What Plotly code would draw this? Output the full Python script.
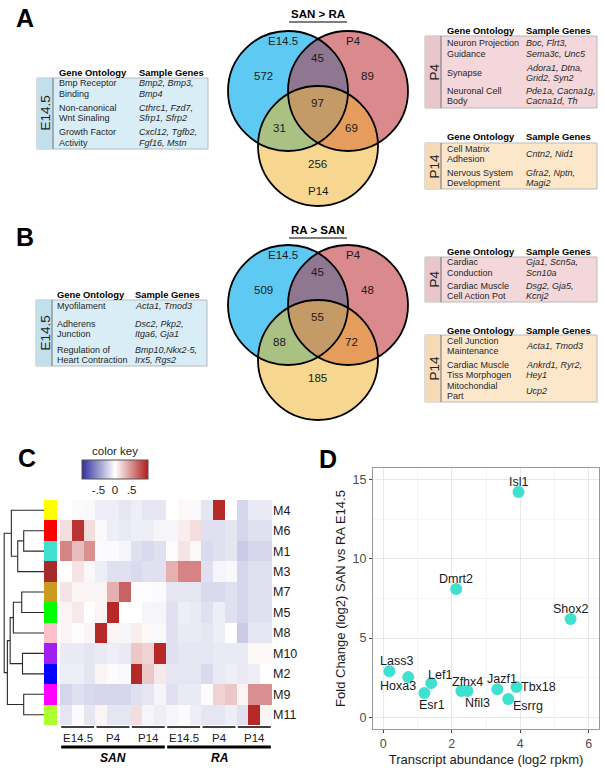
import numpy as np
import plotly.graph_objects as go

W, H = 605, 768
FONT = "Liberation Sans, Arial, sans-serif"


def X(px):
    return px / W


def Y(py):
    return 1 - py / H


# ---------------------------------------------------------------- DATA
venn_regions = ["E14.5", "P4", "P14", "E14.5&P4", "E14.5&P14", "P4&P14", "E14.5&P4&P14"]
san_gt_ra_counts = [572, 89, 256, 45, 31, 69, 97]
ra_gt_san_counts = [509, 48, 185, 45, 88, 72, 55]
venn_set_labels_A = ["E14.5", "P4", "P14"]
venn_set_labels_B = ["E14.5", "P4", ""]

# GO tables: (term lines), (gene lines)
tabA_E145_terms = [["Bmp Receptor", "Binding"], ["Non-canonical", "Wnt Sinaling"], ["Growth Factor", "Activity"]]
tabA_E145_genes = [["Bmp2, Bmp3,", "Bmp4"], ["Cthrc1, Fzd7,", "Sfrp1, Sfrp2"], ["Cxcl12, Tgfb2,", "Fgf16, Mstn"]]
tabA_P4_terms = [["Neuron Projection", "Guidance"], ["Synapse"], ["Neuronal Cell", "Body"]]
tabA_P4_genes = [["Boc, Flrt3,", "Sema3c, Unc5"], ["Adora1, Dtna,", "Grid2, Syn2"], ["Pde1a, Cacna1g,", "Cacna1d, Th"]]
tabA_P14_terms = [["Cell Matrix", "Adhesion"], ["Nervous System", "Development"]]
tabA_P14_genes = [["Cntn2, Nid1"], ["Gfra2, Nptn,", "Magi2"]]
tabB_E145_terms = [["Myofilament"], ["Adherens", "Junction"], ["Regulation of", "Heart Contraction"]]
tabB_E145_genes = [["Acta1, Tmod3"], ["Dsc2, Pkp2,", "Itga6, Gja1"], ["Bmp10,Nkx2-5,", "Irx5, Rgs2"]]
tabB_P4_terms = [["Cardiac", "Conduction"], ["Cardiac Muscle", "Cell Action Pot"]]
tabB_P4_genes = [["Gja1, Scn5a,", "Scn10a"], ["Dsg2, Gja5,", "Kcnj2"]]
tabB_P14_terms = [["Cell Junction", "Maintenance"], ["Cardiac Muscle", "Tiss Morphogen"], ["Mitochondial", "Part"]]
tabB_P14_genes = [["Acta1, Tmod3"], ["Ankrd1, Ryr2,", "Hey1"], ["Ucp2"]]

# Heatmap (module eigengenes): 18 samples = SAN/RA x E14.5/P4/P14 x 3 reps
tissues = ["SAN", "RA"]
stages = ["E14.5", "P4", "P14"]
modules = ["M4", "M6", "M1", "M3", "M7", "M5", "M8", "M10", "M2", "M9", "M11"]
module_colors = ["#ffff00", "#ff0000", "#40e0d0", "#a52a2a", "#cc9a1e", "#00ff00",
                 "#ffc0cb", "#a020f0", "#0000ff", "#ff00ff", "#adff2f"]
m4 = [0.0, -0.02, -0.03, -0.08, -0.08, -0.12, -0.08, -0.12, -0.12, 0.0, 0.03, -0.03, -0.12, 0.95, 0.0, -0.2, -0.1, -0.1]
m6 = [0.15, 0.9, 0.15, -0.03, -0.08, -0.1, -0.08, -0.08, -0.05, -0.05, 0.08, 0.15, -0.15, -0.15, -0.12, -0.2, -0.15, -0.15]
m1 = [0.55, 0.3, 0.5, -0.02, -0.02, -0.05, -0.15, -0.18, -0.15, 0.02, 0.12, 0.03, -0.18, -0.15, -0.12, -0.25, -0.2, -0.2]
m3 = [0.0, 0.12, -0.03, -0.08, -0.15, -0.15, -0.18, -0.15, -0.15, 0.35, 0.55, 0.55, -0.15, -0.05, -0.03, -0.2, -0.15, -0.15]
m7 = [0.12, 0.05, 0.05, 0.05, 0.35, 0.7, 0.02, 0.02, -0.02, -0.12, -0.12, -0.12, -0.18, -0.18, -0.15, -0.2, -0.15, -0.15]
m5 = [0.05, 0.1, 0.0, 0.05, 0.95, 0.0, 0.0, -0.05, -0.05, -0.15, -0.08, -0.1, -0.15, -0.08, -0.15, -0.2, -0.15, -0.15]
m8 = [0.05, 0.02, 0.05, 0.95, 0.05, -0.05, 0.08, 0.03, -0.03, -0.15, -0.1, -0.1, -0.12, -0.08, 0.0, -0.25, -0.12, -0.12]
m10 = [-0.1, -0.1, -0.12, -0.1, -0.08, -0.1, 0.25, 0.2, 0.95, -0.15, -0.12, -0.12, -0.12, -0.1, -0.1, -0.1, 0.03, 0.03]
m2 = [-0.08, -0.08, -0.12, 0.05, 0.02, -0.03, 0.95, 0.25, 0.1, -0.12, -0.12, -0.12, -0.18, -0.1, -0.08, -0.1, -0.08, 0.0]
m9 = [-0.2, -0.15, -0.18, -0.2, -0.2, -0.2, -0.15, -0.12, -0.05, -0.15, -0.1, -0.1, 0.02, 0.2, 0.25, 0.05, 0.5, 0.5]
m11 = [-0.12, -0.02, -0.12, 0.05, -0.12, -0.12, 0.15, -0.05, -0.08, -0.05, -0.02, -0.08, -0.12, -0.12, -0.08, -0.15, 0.95, 0.05]
eigengenes = [m4, m6, m1, m3, m7, m5, m8, m10, m2, m9, m11]

# dendrogram merges: (left node, right node, height); leaves are module indices 0..10,
# merged nodes are numbered 11, 12, ...
dendro_merges = [(1, 2, 0.51), (11, 3, 0.66), (0, 12, 0.82), (4, 5, 0.56), (14, 6, 0.77),
                 (7, 8, 0.54), (15, 16, 0.85), (9, 10, 0.51), (17, 18, 0.92), (13, 19, 1.0)]

# Scatter (panel D)
genes = ["Isl1", "Dmrt2", "Shox2", "Lass3", "Hoxa3", "Lef1", "Esr1", "Zfhx4", "Nfil3", "Jazf1", "Esrrg", "Tbx18"]
abundance = [3.95, 2.13, 5.47, 0.18, 0.73, 1.40, 1.20, 2.28, 2.46, 3.33, 3.65, 3.89]
fold_change = [14.24, 8.1, 6.2, 2.9, 2.53, 2.15, 1.52, 1.65, 1.65, 1.77, 1.14, 1.9]
label_shift = [(0, 10), (0, 10), (0, 10), (7, 10), (-10, -9), (9, 8), (8, -12), (6, 9), (10, -12),
               (5, 10), (20, -7), (22, 0)]

# ---------------------------------------------------------------- FIGURE
fig = go.Figure()
shapes = []
annots = []


def txt(x, y, s, size=10, xa="left", ya="middle", color="#1a1a1a", angle=0, **kw):
    annots.append(dict(x=X(x), y=Y(y), xref="paper", yref="paper", text=s, showarrow=False,
                       xanchor=xa, yanchor=ya, textangle=angle,
                       font=dict(family=FONT, size=size, color=color), **kw))


# panel letters
for letter, (lx, ly) in zip("ABCD", [(25, 18), (25, 237), (27, 458), (328, 459)]):
    txt(lx, ly, f"<b>{letter}</b>", size=25, xa="center", color="black")


# --------- Venn diagrams
def circ_pts(c, r, n=720):
    t = np.linspace(0, 2 * np.pi, n, endpoint=False)
    return np.column_stack([c[0] + r * np.cos(t), c[1] + r * np.sin(t)])


def region_path(circles, r):
    pts = []
    for i, c in enumerate(circles):
        p = circ_pts(c, r)
        ok = np.ones(len(p), bool)
        for j, o in enumerate(circles):
            if j != i:
                ok &= (p[:, 0] - o[0]) ** 2 + (p[:, 1] - o[1]) ** 2 <= r * r + 1e-6
        pts.append(p[ok])
    pts = np.vstack(pts)
    ctr = pts.mean(axis=0)
    order = np.argsort(np.arctan2(pts[:, 1] - ctr[1], pts[:, 0] - ctr[0]))
    pts = pts[order]
    return "M " + " L ".join(f"{X(a):.5f},{Y(b):.5f}" for a, b in pts) + " Z"


venn_fill = ["#5ecaf3", "#da898c", "#f7d690"]
lens_fill = {(0, 1): "#8f7691", (0, 2): "#a9c284", (1, 2): "#e59c5c"}
center_fill = "#c49b66"
region_offsets = [(-54, -15), (50, -15), (0, 73), (0, -33), (-38, 37), (34, 37), (0, 12)]
set_label_offsets = [(-35, -50), (35, -50), (0, 100)]


def venn(cx, cy, r, counts, title, title_y, set_labels):
    cs = [(cx - 30, cy), (cx + 30, cy), (cx, cy + 55)]
    for c, f in zip(cs, venn_fill):
        shapes.append(dict(type="circle", xref="paper", yref="paper", x0=X(c[0] - r), x1=X(c[0] + r),
                           y0=Y(c[1] + r), y1=Y(c[1] - r), fillcolor=f, line=dict(width=0)))
    for (i, j), f in lens_fill.items():
        shapes.append(dict(type="path", xref="paper", yref="paper", path=region_path([cs[i], cs[j]], r),
                           fillcolor=f, line=dict(width=0)))
    shapes.append(dict(type="path", xref="paper", yref="paper", path=region_path(cs, r),
                       fillcolor=center_fill, line=dict(width=0)))
    for c in cs:
        shapes.append(dict(type="circle", xref="paper", yref="paper", x0=X(c[0] - r), x1=X(c[0] + r),
                           y0=Y(c[1] + r), y1=Y(c[1] - r), line=dict(color="black", width=1.8)))
    for v, (dx, dy) in zip(counts, region_offsets):
        txt(cx - 1 + dx, cy + dy, str(v), size=11.5, xa="center")
    for s, (dx, dy) in zip(set_labels, set_label_offsets):
        if s:
            txt(cx + dx, cy + dy, s, size=11.5, xa="center")
    txt(cx, title_y, f"<b>{title}</b>", size=11.5, xa="center", color="black")
    shapes.append(dict(type="line", xref="paper", yref="paper", x0=X(cx - 29), x1=X(cx + 29),
                       y0=Y(title_y + 8), y1=Y(title_y + 8), line=dict(color="black", width=1.2)))


venn(318, 91, 60, san_gt_ra_counts, "SAN &gt; RA", 14, venn_set_labels_A)
venn(318, 305, 60, ra_gt_san_counts, "RA &gt; SAN", 230, venn_set_labels_B)

TFS = 9.0   # table body font
THS = 9.4   # table header font


# --------- GO tables
def table(x0, x1, yh, y0, y1, body, stripe, label, label_y, c1, c2, terms, gene_lists, row_ys):
    sw = 16
    shapes.append(dict(type="rect", xref="paper", yref="paper", x0=X(x0), x1=X(x1), y0=Y(y1), y1=Y(y0),
                       fillcolor=body, line=dict(color="#b9b9b9", width=1)))
    shapes.append(dict(type="rect", xref="paper", yref="paper", x0=X(x0), x1=X(x0 + sw), y0=Y(y1), y1=Y(y0),
                       fillcolor=stripe, line=dict(width=0)))
    shapes.append(dict(type="line", xref="paper", yref="paper", x0=X(x0 + sw), x1=X(x0 + sw), y0=Y(y1),
                       y1=Y(y0), line=dict(color="#8a8a8a", width=1.3)))
    txt(x0 + sw / 2 + 0.5, label_y, label, size=13.5, xa="center", angle=-90, color="#222")
    txt(c1, yh, "<b>Gene Ontology</b>", size=THS, color="black")
    txt(c2, yh, "<b>Sample Genes</b>", size=THS, color="black")
    for t_lines, g_lines, ys in zip(terms, gene_lists, row_ys):
        ty, gy = ys
        for k, s in enumerate(t_lines):
            txt(c1, ty[k], s, size=TFS, color="#262626")
        for k, s in enumerate(g_lines):
            txt(c2, gy[k], f"<i>{s}</i>", size=TFS, color="#262626")


BLUE_B, BLUE_S = "#d8edf6", "#c2e0ec"
PINK_B, PINK_S = "#f3d7da", "#e9c6ca"
PEACH_B, PEACH_S = "#fde7cb", "#f6dab6"

table(37, 208, 72, 78, 149, BLUE_B, BLUE_S, "E14.5", 113, 57, 137, tabA_E145_terms, tabA_E145_genes,
      [([83, 94], [83, 94]), ([108, 118], [108, 118]), ([132, 143], [132, 143])])
table(425, 597, 30, 36, 108, PINK_B, PINK_S, "P4", 72, 445, 524, tabA_P4_terms, tabA_P4_genes,
      [([43, 54], [43, 54]), ([73], [68, 78]), ([91, 101], [91, 101])])
table(425, 597, 136, 143, 189, PEACH_B, PEACH_S, "P14", 166, 445, 524, tabA_P14_terms, tabA_P14_genes,
      [([149, 159], [154]), ([173, 183], [173, 183])])
table(36, 207, 295, 300, 366, BLUE_B, BLUE_S, "E14.5", 333, 55, 133, tabB_E145_terms, tabB_E145_genes,
      [([306], [306]), ([324, 334], [324, 334]), ([350, 360], [350, 360])])
table(425, 597, 251, 257, 302, PINK_B, PINK_S, "P4", 279, 445, 524, tabB_P4_terms, tabB_P4_genes,
      [([262, 273], [262, 273]), ([286, 296], [286, 296])])
table(425, 597, 330, 335, 402, PEACH_B, PEACH_S, "P14", 368, 445, 524, tabB_P14_terms, tabB_P14_genes,
      [([341, 351], [346]), ([365, 375], [365, 375]), ([386, 396], [391])])

# --------- Heatmap (panel C)
n_cols = len(tissues) * len(stages) * 3
col_idx = list(range(n_cols))
row_idx = list(range(len(modules)))
fig.add_trace(go.Heatmap(
    z=eigengenes, x=col_idx, y=row_idx, xaxis="x", yaxis="y",
    colorscale=[[0, "#2f2f9f"], [0.5, "#ffffff"], [1, "#b21e1e"]], zmin=-1, zmax=1,
    hoverinfo="skip",
    colorbar=dict(orientation="h", lenmode="pixels", len=66, thickness=19,
                  x=X(115), xanchor="center", y=Y(448), yanchor="top", xpad=0, ypad=0,
                  tickvals=[-0.5, 0, 0.5], ticktext=["-.5", "0", ".5"], ticks="",
                  tickfont=dict(family=FONT, size=11.5, color="#222"),
                  title=dict(text="color key", side="top", font=dict(family=FONT, size=11.5, color="#222")),
                  outlinecolor="#555", outlinewidth=1),
))
fig.add_trace(go.Heatmap(
    z=[[i] for i in row_idx], x=[0], y=row_idx, xaxis="x3", yaxis="y3",
    colorscale=[[i / (len(module_colors) - 1), c] for i, c in enumerate(module_colors)],
    zmin=0, zmax=len(module_colors) - 1, showscale=False, hoverinfo="skip"))

# dendrogram
node_pos = {i: (float(i), 0.0) for i in row_idx}
dx, dy = [], []
for k, (a, b, h) in enumerate(dendro_merges):
    ya, ha = node_pos[a]
    yb, hb = node_pos[b]
    dx += [ha, h, h, hb, None]
    dy += [ya, ya, yb, yb, None]
    node_pos[len(row_idx) + k] = ((ya + yb) / 2, h)
fig.add_trace(go.Scatter(x=dx, y=dy, mode="lines", line=dict(color="#2b2b2b", width=1.1),
                         xaxis="x2", yaxis="y2", hoverinfo="skip", showlegend=False))

# group labels below heatmap
for ti, tissue in enumerate(tissues):
    for si, st in enumerate(stages):
        g0 = (ti * 3 + si) * 3
        shapes.append(dict(type="line", xref="x", yref="paper", x0=g0 - 0.5 + 0.1, x1=g0 + 2.5 - 0.1,
                           y0=Y(727), y1=Y(727), line=dict(color="black", width=1.5)))
        annots.append(dict(x=g0 + 1, y=Y(738), xref="x", yref="paper", text=st, showarrow=False,
                           xanchor="center", yanchor="middle", font=dict(family=FONT, size=11.5, color="#1a1a1a")))
    t0 = ti * 9
    shapes.append(dict(type="line", xref="x", yref="paper", x0=t0 - 0.5 + 0.1, x1=t0 + 8.5 - 0.1,
                       y0=Y(747), y1=Y(747), line=dict(color="black", width=3)))
    annots.append(dict(x=t0 + 4, y=Y(758), xref="x", yref="paper", text=f"<b><i>{tissue}</i></b>", showarrow=False,
                       xanchor="center", yanchor="middle", font=dict(family=FONT, size=12, color="black")))

# --------- Scatter (panel D)
fig.add_trace(go.Scatter(x=abundance, y=fold_change, mode="markers", xaxis="x5", yaxis="y5",
                         marker=dict(size=12, color="#40e0d0"), hoverinfo="skip", showlegend=False))
for g, xv, yv, (sx, sy) in zip(genes, abundance, fold_change, label_shift):
    annots.append(dict(x=xv, y=yv, xref="x5", yref="y5", text=g, showarrow=False, xshift=sx, yshift=sy,
                       xanchor="center", yanchor="middle", font=dict(family=FONT, size=12.5, color="#1a1a1a")))

hm_dom_y = [Y(725), Y(500)]
fig.update_layout(
    width=W, height=H, margin=dict(l=0, r=0, t=0, b=0),
    paper_bgcolor="white", plot_bgcolor="white", showlegend=False,
    font=dict(family=FONT),
    xaxis=dict(domain=[X(60), X(272)], range=[-0.5, n_cols - 0.5], anchor="y", showticklabels=False,
               showgrid=False, zeroline=False, ticks=""),
    yaxis=dict(domain=hm_dom_y, range=[len(modules) - 0.5, -0.5], anchor="x", side="right",
               tickvals=row_idx, ticktext=modules, ticks="", showgrid=False, zeroline=False,
               tickfont=dict(family=FONT, size=12.5, color="#1a1a1a")),
    xaxis2=dict(domain=[X(3), X(44)], range=[1.03, 0], anchor="y2", visible=False),
    yaxis2=dict(domain=hm_dom_y, range=[len(modules) - 0.5, -0.5], anchor="x2", visible=False),
    xaxis3=dict(domain=[X(44), X(57)], range=[-0.5, 0.5], anchor="y3", visible=False),
    yaxis3=dict(domain=hm_dom_y, range=[len(modules) - 0.5, -0.5], anchor="x3", visible=False),
    xaxis5=dict(domain=[X(373), X(599)], range=[-0.3, 6.3], anchor="y5", dtick=2, tick0=0,
                showline=True, mirror=True, linecolor="#9a9a9a", linewidth=1,
                ticks="outside", ticklen=3, tickcolor="#444", zeroline=False,
                showgrid=True, gridcolor="#e8e8e8", gridwidth=1,
                minor=dict(dtick=1, showgrid=True, gridcolor="#f4f4f4", gridwidth=0.8),
                tickfont=dict(family=FONT, size=12.5, color="#4d4d4d"),
                title=dict(text="Transcript abundance (log2 rpkm)", standoff=4,
                           font=dict(family=FONT, size=13, color="#1a1a1a"))),
    yaxis5=dict(domain=[Y(729), Y(468)], range=[-0.75, 15.75], anchor="x5", dtick=5, tick0=0,
                showline=True, mirror=True, linecolor="#9a9a9a", linewidth=1,
                ticks="outside", ticklen=3, tickcolor="#444", zeroline=False,
                showgrid=True, gridcolor="#e8e8e8", gridwidth=1,
                minor=dict(dtick=2.5, showgrid=True, gridcolor="#f4f4f4", gridwidth=0.8),
                tickfont=dict(family=FONT, size=12.5, color="#4d4d4d"),
                title=dict(text="Fold Change (log2) SAN vs RA E14.5", standoff=4,
                           font=dict(family=FONT, size=13, color="#1a1a1a"))),
    shapes=shapes, annotations=annots,
)

fig.write_html("out.html", config={"displayModeBar": False},
               post_script="document.body.style.margin='0';document.body.style.padding='0';")
